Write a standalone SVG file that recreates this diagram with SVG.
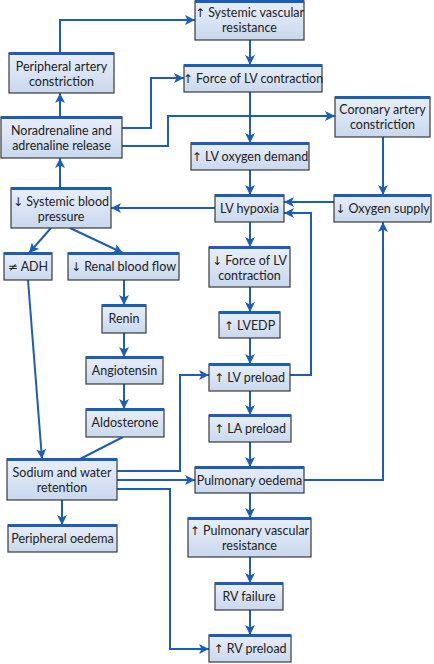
<svg xmlns="http://www.w3.org/2000/svg" width="434" height="664" viewBox="0 0 434 664">
<defs>
<linearGradient id="g" x1="0" y1="0" x2="0" y2="1">
<stop offset="0" stop-color="#e9eff9"/>
<stop offset="1" stop-color="#c9d8ee"/>
</linearGradient>
<marker id="ah" markerUnits="userSpaceOnUse" markerWidth="11" markerHeight="10" refX="10" refY="5" orient="auto">
<path d="M0,0 L10,5 L0,10 L2.5,5 z" fill="#1a5eb8"/>
</marker>
<style>
.b rect.f{fill:url(#g);stroke:#3a3a3a;stroke-width:1.2}
.b rect.t{fill:#1a5eb8}
.b text{font-family:Lato,"Liberation Sans",sans-serif;font-size:12.5px;fill:#222;text-anchor:middle}
.b tspan.s{font-family:"DejaVu Sans","Liberation Sans",sans-serif;font-size:12px}
#connectors path{fill:none;stroke:#1a5eb8;stroke-width:2}
#connectors path.a{marker-end:url(#ah)}
</style>
</defs>
<rect width="434" height="664" fill="#fff"/>
<g id="connectors">
<path class="a" d="M60,53 V20 H195"/>
<path class="a" d="M60,117 V93"/>
<path class="a" d="M60,188 V158"/>
<path class="a" d="M122,128 H151 V78 H184"/>
<path class="a" d="M122,146 H168 V116 H335"/>
<path class="a" d="M250,40 V65"/>
<path class="a" d="M250,92 V143"/>
<path class="a" d="M250,170 V195"/>
<path class="a" d="M383,137 V195"/>
<path class="a" d="M334,202 H284"/>
<path class="a" d="M215,208 H111"/>
<path class="a" d="M250,222 V247"/>
<path class="a" d="M250,287 V312"/>
<path class="a" d="M250,338 V364"/>
<path class="a" d="M290,375 H311 V213 H284"/>
<path class="a" d="M250,391 V415"/>
<path class="a" d="M250,442 V467"/>
<path class="a" d="M304,480 H383 V222"/>
<path class="a" d="M250,493 V518"/>
<path class="a" d="M250,557 V583"/>
<path class="a" d="M250,610 V635"/>
<path class="a" d="M51,228 L29,253"/>
<path class="a" d="M70,228 L123,253"/>
<path class="a" d="M124,280 V305"/>
<path class="a" d="M124,333 V357"/>
<path class="a" d="M124,384 V409"/>
<path class="a" d="M28,280 L42,459"/>
<path d="M123,437 L80,459"/>
<path class="a" d="M117,471 H180 V375 H209"/>
<path class="a" d="M117,480 H195"/>
<path class="a" d="M117,489 H170 V649 H209"/>
<path class="a" d="M62,500 V525"/>
</g>
<g id="svr" class="b"><rect class="f" x="195" y="1" width="109" height="39"/><rect class="t" x="195" y="0" width="109" height="3"/><text x="249.5" y="17"><tspan class="s">↑</tspan> Systemic vascular</text><text x="249.5" y="32">resistance</text></g>
<g id="force" class="b"><rect class="f" x="184" y="65" width="138" height="27"/><rect class="t" x="184" y="64" width="138" height="3"/><text x="253" y="83"><tspan class="s">↑</tspan> Force of LV contraction</text></g>
<g id="coronary" class="b"><rect class="f" x="335" y="97" width="95" height="40"/><rect class="t" x="335" y="96" width="95" height="3"/><text x="382.5" y="114">Coronary artery</text><text x="382.5" y="129">constriction</text></g>
<g id="demand" class="b"><rect class="f" x="191" y="143" width="118" height="27"/><rect class="t" x="191" y="142" width="118" height="3"/><text x="250" y="161"><tspan class="s">↑</tspan> LV oxygen demand</text></g>
<g id="hypoxia" class="b"><rect class="f" x="215" y="195" width="69" height="27"/><rect class="t" x="215" y="194" width="69" height="3"/><text x="249.5" y="213">LV hypoxia</text></g>
<g id="oxygen" class="b"><rect class="f" x="334" y="195" width="97" height="27"/><rect class="t" x="334" y="194" width="97" height="3"/><text x="382.5" y="213"><tspan class="s">↓</tspan> Oxygen supply</text></g>
<g id="periphart" class="b"><rect class="f" x="9" y="53" width="105" height="40"/><rect class="t" x="9" y="52" width="105" height="3"/><text x="61.5" y="71">Peripheral artery</text><text x="61.5" y="86">constriction</text></g>
<g id="noradr" class="b"><rect class="f" x="1" y="117" width="121" height="41"/><rect class="t" x="1" y="116" width="121" height="3"/><text x="61.5" y="135">Noradrenaline and</text><text x="61.5" y="150">adrenaline release</text></g>
<g id="sysbp" class="b"><rect class="f" x="11" y="188" width="100" height="40"/><rect class="t" x="11" y="187" width="100" height="3"/><text x="61" y="206"><tspan class="s">↓</tspan> Systemic blood</text><text x="61" y="221">pressure</text></g>
<g id="adh" class="b"><rect class="f" x="4" y="253" width="48" height="27"/><rect class="t" x="4" y="252" width="48" height="3"/><text x="28" y="271"><tspan class="s">≠</tspan> ADH</text></g>
<g id="renal" class="b"><rect class="f" x="68" y="253" width="111" height="27"/><rect class="t" x="68" y="252" width="111" height="3"/><text x="123.5" y="271"><tspan class="s">↓</tspan> Renal blood flow</text></g>
<g id="renin" class="b"><rect class="f" x="102" y="305" width="44" height="28"/><rect class="t" x="102" y="304" width="44" height="3"/><text x="124" y="323">Renin</text></g>
<g id="angio" class="b"><rect class="f" x="86" y="357" width="77" height="27"/><rect class="t" x="86" y="356" width="77" height="3"/><text x="124.5" y="375">Angiotensin</text></g>
<g id="aldo" class="b"><rect class="f" x="86" y="409" width="78" height="28"/><rect class="t" x="86" y="408" width="78" height="3"/><text x="125" y="427">Aldosterone</text></g>
<g id="sodium" class="b"><rect class="f" x="7" y="459" width="110" height="41"/><rect class="t" x="7" y="458" width="110" height="3"/><text x="62" y="477">Sodium and water</text><text x="62" y="492">retention</text></g>
<g id="periphoed" class="b"><rect class="f" x="8" y="525" width="109" height="27"/><rect class="t" x="8" y="524" width="109" height="3"/><text x="62.5" y="543">Peripheral oedema</text></g>
<g id="dforce" class="b"><rect class="f" x="209" y="247" width="81" height="40"/><rect class="t" x="209" y="246" width="81" height="3"/><text x="249.5" y="265"><tspan class="s">↓</tspan> Force of LV</text><text x="249.5" y="280">contraction</text></g>
<g id="lvedp" class="b"><rect class="f" x="219" y="312" width="61" height="26"/><rect class="t" x="219" y="311" width="61" height="3"/><text x="249.5" y="330"><tspan class="s">↑</tspan> LVEDP</text></g>
<g id="lvpre" class="b"><rect class="f" x="209" y="364" width="81" height="27"/><rect class="t" x="209" y="363" width="81" height="3"/><text x="249.5" y="382"><tspan class="s">↑</tspan> LV preload</text></g>
<g id="lapre" class="b"><rect class="f" x="209" y="415" width="82" height="27"/><rect class="t" x="209" y="414" width="82" height="3"/><text x="250" y="433"><tspan class="s">↑</tspan> LA preload</text></g>
<g id="pulmoed" class="b"><rect class="f" x="195" y="467" width="109" height="26"/><rect class="t" x="195" y="466" width="109" height="3"/><text x="249.5" y="485">Pulmonary oedema</text></g>
<g id="pvr" class="b"><rect class="f" x="188" y="518" width="123" height="39"/><rect class="t" x="188" y="517" width="123" height="3"/><text x="249.5" y="535"><tspan class="s">↑</tspan> Pulmonary vascular</text><text x="249.5" y="550">resistance</text></g>
<g id="rvfail" class="b"><rect class="f" x="215" y="583" width="68" height="27"/><rect class="t" x="215" y="582" width="68" height="3"/><text x="249" y="601">RV failure</text></g>
<g id="rvpre" class="b"><rect class="f" x="209" y="635" width="82" height="27"/><rect class="t" x="209" y="634" width="82" height="3"/><text x="250" y="653"><tspan class="s">↑</tspan> RV preload</text></g>
</svg>
